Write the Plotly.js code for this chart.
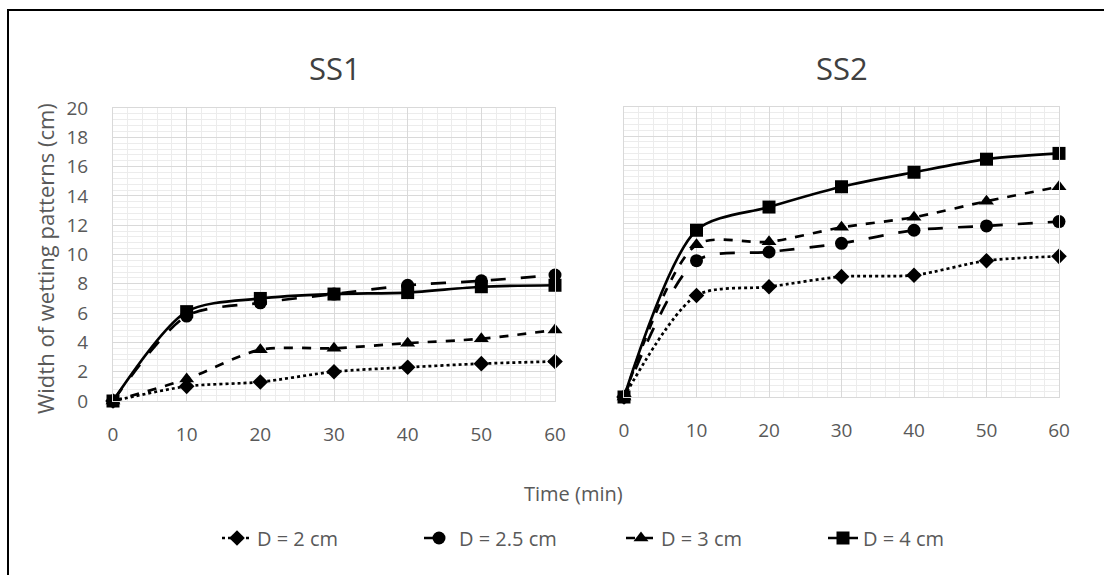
<!DOCTYPE html>
<html>
<head>
<meta charset="utf-8">
<script src="https://cdn.plot.ly/plotly-3.0.1.min.js"></script>
<style>
html,body{margin:0;padding:0;background:#fff;}
#chart{width:1104px;height:575px;}
</style>
</head>
<body>
<div id="chart"></div>
<script>
const time = [0, 10, 20, 30, 40, 50, 60];
const seriesNames = ["D = 2 cm", "D = 2.5 cm", "D = 3 cm", "D = 4 cm"];
const ss1_d2   = [0, 1.0, 1.3, 2.0, 2.3, 2.55, 2.7];
const ss1_d25  = [0, 5.8, 6.7, 7.3, 7.9, 8.2, 8.6];
const ss1_d3   = [0, 1.5, 3.5, 3.6, 3.95, 4.25, 4.85];
const ss1_d4   = [0, 6.1, 7.0, 7.3, 7.4, 7.8, 7.9];
const ss2_d2   = [0, 7.0, 7.6, 8.3, 8.4, 9.4, 9.7];
const ss2_d25  = [0, 9.4, 10.0, 10.6, 11.5, 11.8, 12.1];
const ss2_d3   = [0, 10.5, 10.7, 11.7, 12.4, 13.5, 14.5];
const ss2_d4   = [0, 11.5, 13.1, 14.5, 15.5, 16.4, 16.8];
const xTicks = [0, 10, 20, 30, 40, 50, 60];
const yTicks = [0, 2, 4, 6, 8, 10, 12, 14, 16, 18, 20];

const styles = [
  {dash: "dot", symbol: "diamond", size: 12},
  {dash: "longdash", symbol: "circle", size: 13},
  {dash: "dash", symbol: "triangle-up", size: 13},
  {dash: "solid", symbol: "square", size: 13}
];

const ss1 = [ss1_d2, ss1_d25, ss1_d3, ss1_d4];
const ss2 = [ss2_d2, ss2_d25, ss2_d3, ss2_d4];
const traces = [];
ss1.forEach((ys, i) => {
  traces.push({
    x: time, y: ys, xaxis: "x", yaxis: "y", name: seriesNames[i],
    legendgroup: "g" + i, showlegend: true, mode: "lines+markers", cliponaxis: false,
    line: {color: "#000", width: 2.7, dash: styles[i].dash, shape: "spline", smoothing: 0.8},
    marker: {symbol: styles[i].symbol, size: styles[i].size, color: "#000"}
  });
});
ss2.forEach((ys, i) => {
  traces.push({
    x: time, y: ys, xaxis: "x2", yaxis: "y2", name: seriesNames[i],
    legendgroup: "g" + i, showlegend: false, mode: "lines+markers", cliponaxis: false,
    line: {color: "#000", width: 2.7, dash: styles[i].dash, shape: "spline", smoothing: 0.8},
    marker: {symbol: styles[i].symbol, size: styles[i].size, color: "#000"}
  });
});

const W = 1104, H = 575;
const fontFam = "'Open Sans', 'Noto Sans', sans-serif";
const gridMajor = "#d9d9d9", gridMinor = "#ececec";

function xax(domain) {
  return {
    domain: domain, range: [0, 60], tickvals: xTicks, ticktext: xTicks.map(String),
    showgrid: true, gridcolor: gridMajor, gridwidth: 1, zeroline: false,
    showline: true, linecolor: gridMajor, mirror: true,
    minor: {dtick: 2, showgrid: true, gridcolor: gridMinor, gridwidth: 1},
    ticks: "", ticklabelstandoff: 16,
    tickfont: {family: fontFam, size: 19, color: "#595959"}, fixedrange: true
  };
}
function yax(domain, labels, anchor) {
  return {
    domain: domain, range: [0, 20], tickvals: yTicks, ticktext: yTicks.map(String),
    showticklabels: labels, anchor: anchor,
    showgrid: true, gridcolor: gridMajor, gridwidth: 1, zeroline: false,
    showline: true, linecolor: gridMajor, mirror: true,
    minor: {dtick: 0.4, showgrid: true, gridcolor: gridMinor, gridwidth: 1},
    ticks: "", ticklabelstandoff: 20,
    tickfont: {family: fontFam, size: 19, color: "#595959"}, fixedrange: true
  };
}

const layout = {
  width: W, height: H,
  margin: {l: 0, r: 0, t: 0, b: 0},
  paper_bgcolor: "#fff", plot_bgcolor: "#fff",
  font: {family: fontFam, color: "#595959"},
  xaxis: Object.assign(xax([113 / W, 555 / W]), {anchor: "y"}),
  yaxis: yax([1 - 401 / H, 1 - 108 / H], true, "x"),
  xaxis2: Object.assign(xax([624 / W, 1059 / W]), {anchor: "y2"}),
  yaxis2: yax([1 - 397 / H, 1 - 107 / H], false, "x2"),
  showlegend: true,
  legend: {
    orientation: "h", x: 217 / W, xanchor: "left", y: 1 - 538 / H, yanchor: "middle",
    font: {family: fontFam, size: 20, color: "#595959"},
    entrywidth: 157, entrywidthmode: "pixels",
    tracegroupgap: 0, bgcolor: "rgba(0,0,0,0)"
  },
  annotations: [
    {text: "SS1", xref: "paper", yref: "paper", x: 335 / W, y: 1 - 68 / H,
     showarrow: false, xanchor: "center", yanchor: "middle",
     font: {family: fontFam, size: 31, color: "#404040"}},
    {text: "SS2", xref: "paper", yref: "paper", x: 842 / W, y: 1 - 68 / H,
     showarrow: false, xanchor: "center", yanchor: "middle",
     font: {family: fontFam, size: 31, color: "#404040"}},
    {text: "Width of wetting patterns (cm)", xref: "paper", yref: "paper",
     x: 45 / W, y: 1 - 259 / H, textangle: -90, showarrow: false,
     xanchor: "center", yanchor: "middle",
     font: {family: fontFam, size: 22, color: "#595959"}},
    {text: "Time (min)", xref: "paper", yref: "paper", x: 573 / W, y: 1 - 493 / H,
     showarrow: false, xanchor: "center", yanchor: "middle",
     font: {family: fontFam, size: 20, color: "#595959"}}
  ],
  shapes: [
    {type: "rect", xref: "paper", yref: "paper", x0: 8 / W, y0: 1 - 10 / H, x1: 1.02, y1: -0.02,
     line: {color: "#000", width: 2}, fillcolor: "rgba(0,0,0,0)", layer: "above"}
  ]
};

Plotly.newPlot("chart", traces, layout, {displayModeBar: false, staticPlot: true});
</script>
</body>
</html>
